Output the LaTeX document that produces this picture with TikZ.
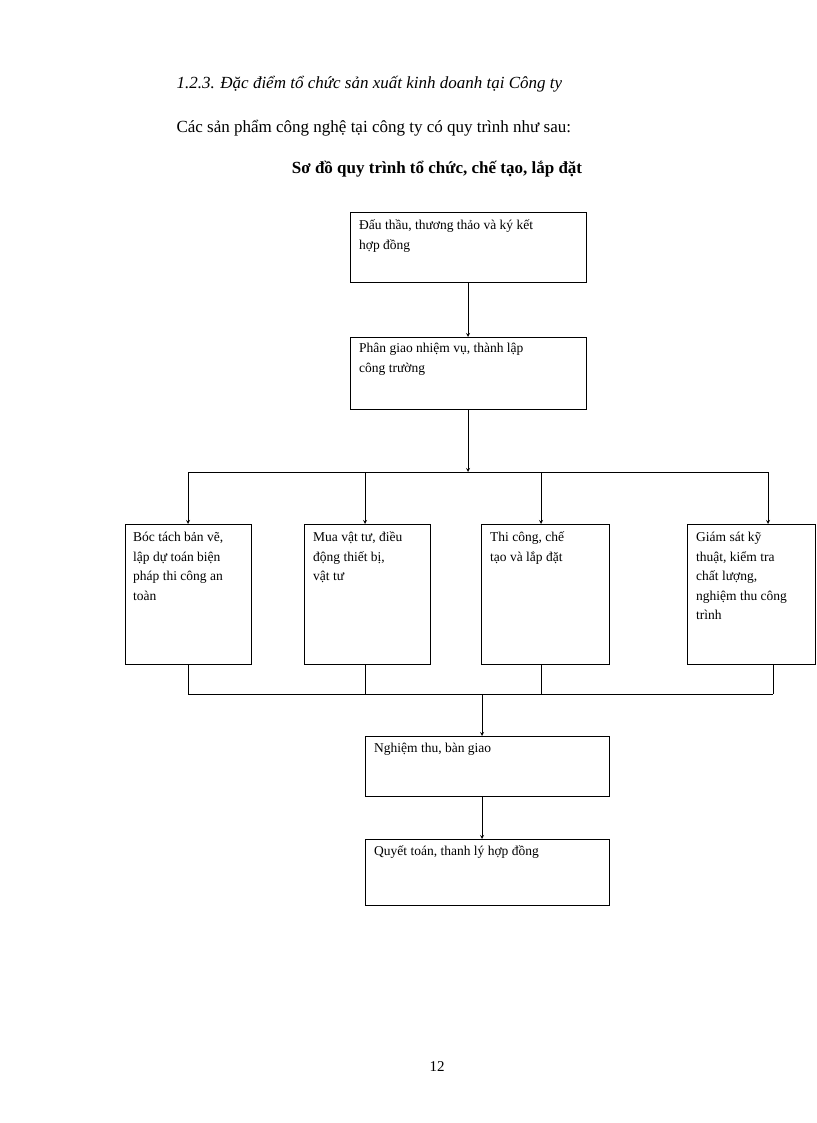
\documentclass[tikz,border=0pt]{standalone}
\usepackage{fontspec}
\setmainfont{Liberation Serif}
\begin{document}
\begin{tikzpicture}[x=1pt,y=-1pt,
  box/.style={draw,thick,minimum width=0pt},
  txt/.style={anchor=north west,align=left,font=\fontsize{13.5}{19.5}\selectfont,inner sep=0pt},
  arr/.style={->,>=stealth,thick},
  ln/.style={thick}]
\useasboundingbox (0,0) rectangle (816,1123);
\node[anchor=west,font=\fontsize{17}{20}\selectfont\itshape] (h1) at (173,84) {1.2.3. Đặc điểm tổ chức sản xuất kinh doanh tại Công ty};
\node[anchor=west,font=\fontsize{17}{20}\selectfont] (h2) at (173,128) {Các sản phẩm công nghệ tại công ty có quy trình như sau:};
\node[font=\fontsize{17}{20}\selectfont\bfseries] (h3) at (437,169) {Sơ đồ quy trình tổ chức, chế tạo, lắp đặt};
% boxes
\draw[ln] (350,212) rectangle (586,282);
\node[txt] (t1) at (359,220) {Đấu thầu, thương thảo và ký kết\\hợp đồng};
\draw[ln] (350,337) rectangle (586,409);
\node[txt] (t2) at (359,343) {Phân giao nhiệm vụ, thành lập\\công trường};
\draw[ln] (125,524) rectangle (251,664);
\node[txt] (ta) at (133,532) {Bóc tách bản vẽ,\\lập dự toán biện\\pháp thi công an\\toàn};
\draw[ln] (304,524) rectangle (430,664);
\node[txt] (tb) at (313,532) {Mua vật tư, điều\\động thiết bị,\\vật tư};
\draw[ln] (481,524) rectangle (609,664);
\node[txt] (tc) at (490,532) {Thi công, chế\\tạo và lắp đặt};
\draw[ln] (687,524) rectangle (815,664);
\node[txt] (td) at (696,532) {Giám sát kỹ\\thuật, kiểm tra\\chất lượng,\\nghiệm thu công\\trình};
\draw[ln] (365,736) rectangle (609,796);
\node[txt] (te) at (374,743) {Nghiệm thu, bàn giao};
\draw[ln] (365,839) rectangle (609,905);
\node[txt] (tf) at (374,846) {Quyết toán, thanh lý hợp đồng};
% connectors
\coordinate (a1) at (468,282); \coordinate (a2) at (468,337);
\draw[arr] (a1) -- (a2);
\coordinate (b1) at (468,409); \coordinate (b2) at (468,472);
\draw[arr] (b1) -- (b2);
\draw[ln] (188,472) -- (768,472);
\foreach \x in {188,365,541,768} \draw[arr] (\x,472) -- (\x,524);
\foreach \x in {188,365,541,773} \draw[ln] (\x,664) -- (\x,694);
\draw[ln] (188,694) -- (773,694);
\coordinate (c1) at (482,694); \coordinate (c2) at (482,736);
\draw[arr] (c1) -- (c2);
\coordinate (d1) at (482,796); \coordinate (d2) at (482,839);
\draw[arr] (d1) -- (d2);
\node[font=\fontsize{15}{18}\selectfont] (pg) at (437,1067) {12};
\end{tikzpicture}
\end{document}
